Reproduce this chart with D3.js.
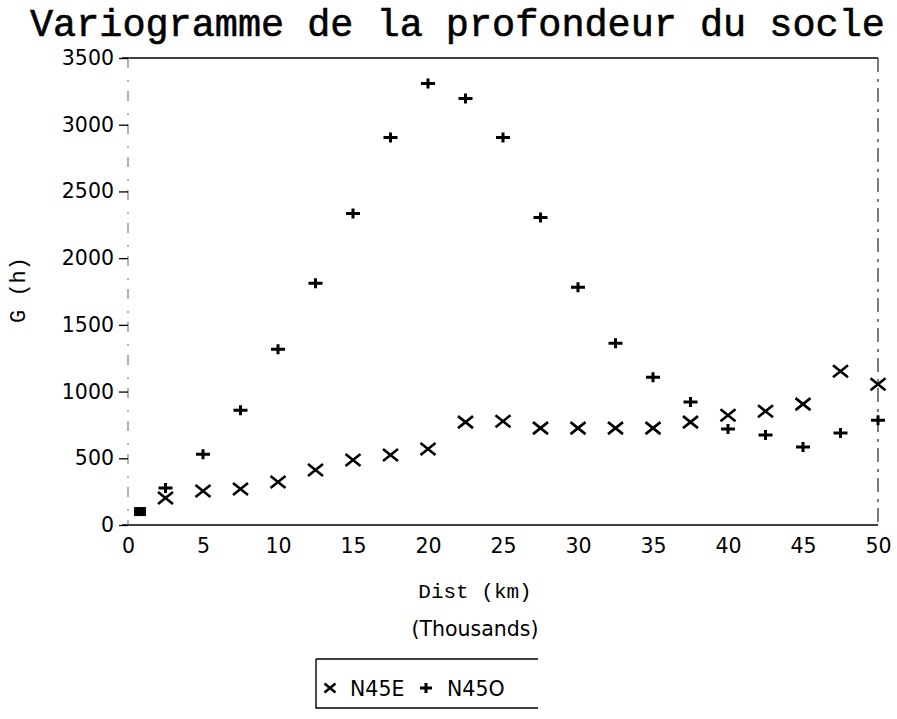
<!DOCTYPE html>
<html>
<head>
<meta charset="utf-8">
<script src="https://cdn.jsdelivr.net/npm/d3@7"></script>
<style>
  body { margin: 0; background: #fff; }
  svg { display: block; }
  .tick text { font-family: "DejaVu Sans", sans-serif; font-size: 20.5px; fill: #000; }
</style>
</head>
<body>
<svg width="897" height="719"></svg>
<script>
// distances (thousands of km), one per lag class
var lags = [2.5, 5, 7.5, 10, 12.5, 15, 17.5, 20, 22.5, 25, 27.5, 30, 32.5, 35, 37.5, 40, 42.5, 45, 47.5, 50];
// N45E direction (x markers)
var n45e = [202, 254, 269, 322, 412, 487, 524, 569, 771, 778, 726, 726, 726, 726, 771, 823, 853, 906, 1153, 1055];
// N45O direction (+ markers)
var n45o = [277, 530, 860, 1317, 1811, 2335, 2904, 3308, 3196, 2904, 2305, 1781, 1362, 1108, 921, 719, 674, 584, 689, 786];
// the small filled square near the origin
var origin = [[0.8, 97]];

var xTicks = [0, 5, 10, 15, 20, 25, 30, 35, 40, 45, 50];
var yTicks = [0, 500, 1000, 1500, 2000, 2500, 3000, 3500];

var svg = d3.select("svg");
var x = d3.scaleLinear().domain([0, 50]).range([128, 878]);
var y = d3.scaleLinear().domain([0, 3500]).range([525, 58]);

// title
svg.append("text")
  .attr("x", 30).attr("y", 36)
  .style("font-family", "'Liberation Mono', 'Courier New', monospace")
  .style("font-size", "38.5px")
  .style("stroke", "#000").style("stroke-width", 0.6)
  .text("Variogramme de la profondeur du socle");

// frame: solid top/bottom, broken left/right
svg.append("line").attr("x1", x(0) - 6).attr("x2", x(50)).attr("y1", y(3500)).attr("y2", y(3500))
  .attr("stroke", "#000").attr("stroke-width", 1.6);
svg.append("line").attr("x1", x(0) - 6).attr("x2", x(50)).attr("y1", y(0)).attr("y2", y(0))
  .attr("stroke", "#000").attr("stroke-width", 1.6);
svg.append("line").attr("x1", x(0)).attr("x2", x(0)).attr("y1", y(3500)).attr("y2", y(0))
  .attr("stroke", "#666").attr("stroke-width", 1).attr("stroke-dasharray", "10,12,2,9");
svg.append("line").attr("x1", x(50)).attr("x2", x(50)).attr("y1", y(3500)).attr("y2", y(0))
  .attr("stroke", "#333").attr("stroke-width", 1.3).attr("stroke-dasharray", "14,7,3,6");

// y axis
var gy = svg.append("g")
  .attr("transform", "translate(" + x(0) + ",0)")
  .call(d3.axisLeft(y).tickValues(yTicks).tickSize(9).tickPadding(5).tickFormat(d3.format("d")));
gy.select(".domain").remove();
gy.selectAll(".tick line").attr("stroke", "#000").attr("stroke-width", 1.3);

// x axis
var gx = svg.append("g")
  .attr("transform", "translate(0," + y(0) + ")")
  .call(d3.axisBottom(x).tickValues(xTicks).tickSize(0).tickPadding(13).tickFormat(d3.format("d")));
gx.select(".domain").remove();

// axis titles
svg.append("text")
  .attr("transform", "translate(25,290) rotate(-90)")
  .attr("text-anchor", "middle")
  .style("font-family", "'Liberation Mono', 'Courier New', monospace")
  .style("font-size", "22px")
  .text("G (h)");

svg.append("text")
  .attr("x", 475).attr("y", 598)
  .attr("text-anchor", "middle")
  .style("font-family", "'Liberation Mono', 'Courier New', monospace")
  .style("font-size", "21px")
  .text("Dist (km)");

svg.append("text")
  .attr("x", 475).attr("y", 636)
  .attr("text-anchor", "middle")
  .style("font-family", "'DejaVu Sans', sans-serif")
  .style("font-size", "20.5px")
  .text("(Thousands)");

// marker shapes
function cross(g, s) {
  g.append("path").attr("d", "M" + (-s) + "," + (-s * 0.8) + "L" + s + "," + (s * 0.8) + "M" + (-s) + "," + (s * 0.8) + "L" + s + "," + (-s * 0.8))
    .attr("stroke", "#000").attr("stroke-width", 2.6).attr("fill", "none");
}
function plus(g, w, h) {
  g.append("path").attr("d", "M" + (-w) + ",0L" + w + ",0M0," + (-h) + "L0," + h)
    .attr("stroke", "#000").attr("stroke-width", 3).attr("fill", "none");
}

svg.append("g").selectAll("g")
  .data(lags.map(function(d, i) { return [d, n45e[i]]; }))
  .enter().append("g")
  .attr("transform", function(d) { return "translate(" + x(d[0]) + "," + y(d[1]) + ")"; })
  .each(function() { cross(d3.select(this), 7.5); });

svg.append("g").selectAll("g")
  .data(lags.map(function(d, i) { return [d, n45o[i]]; }))
  .enter().append("g")
  .attr("transform", function(d) { return "translate(" + x(d[0]) + "," + y(d[1]) + ")"; })
  .each(function() { plus(d3.select(this), 7, 5); });

svg.append("g").selectAll("rect")
  .data(origin)
  .enter().append("rect")
  .attr("x", function(d) { return x(d[0]) - 6; })
  .attr("y", function(d) { return y(d[1]) - 5; })
  .attr("width", 12).attr("height", 9)
  .attr("fill", "#000");

// legend
var leg = svg.append("g");
leg.append("path")
  .attr("d", "M316,659L538,659M316,659L316,708L538,708")
  .attr("stroke", "#000").attr("stroke-width", 1.4).attr("fill", "none");
cross(leg.append("g").attr("transform", "translate(330,688)"), 5.5);
leg.append("text").attr("x", 350).attr("y", 696)
  .style("font-family", "'DejaVu Sans', sans-serif").style("font-size", "20.5px")
  .text("N45E");
plus(leg.append("g").attr("transform", "translate(426,688)"), 6, 5);
leg.append("text").attr("x", 447).attr("y", 696)
  .style("font-family", "'DejaVu Sans', sans-serif").style("font-size", "20.5px")
  .text("N45O");
</script>
</body>
</html>
